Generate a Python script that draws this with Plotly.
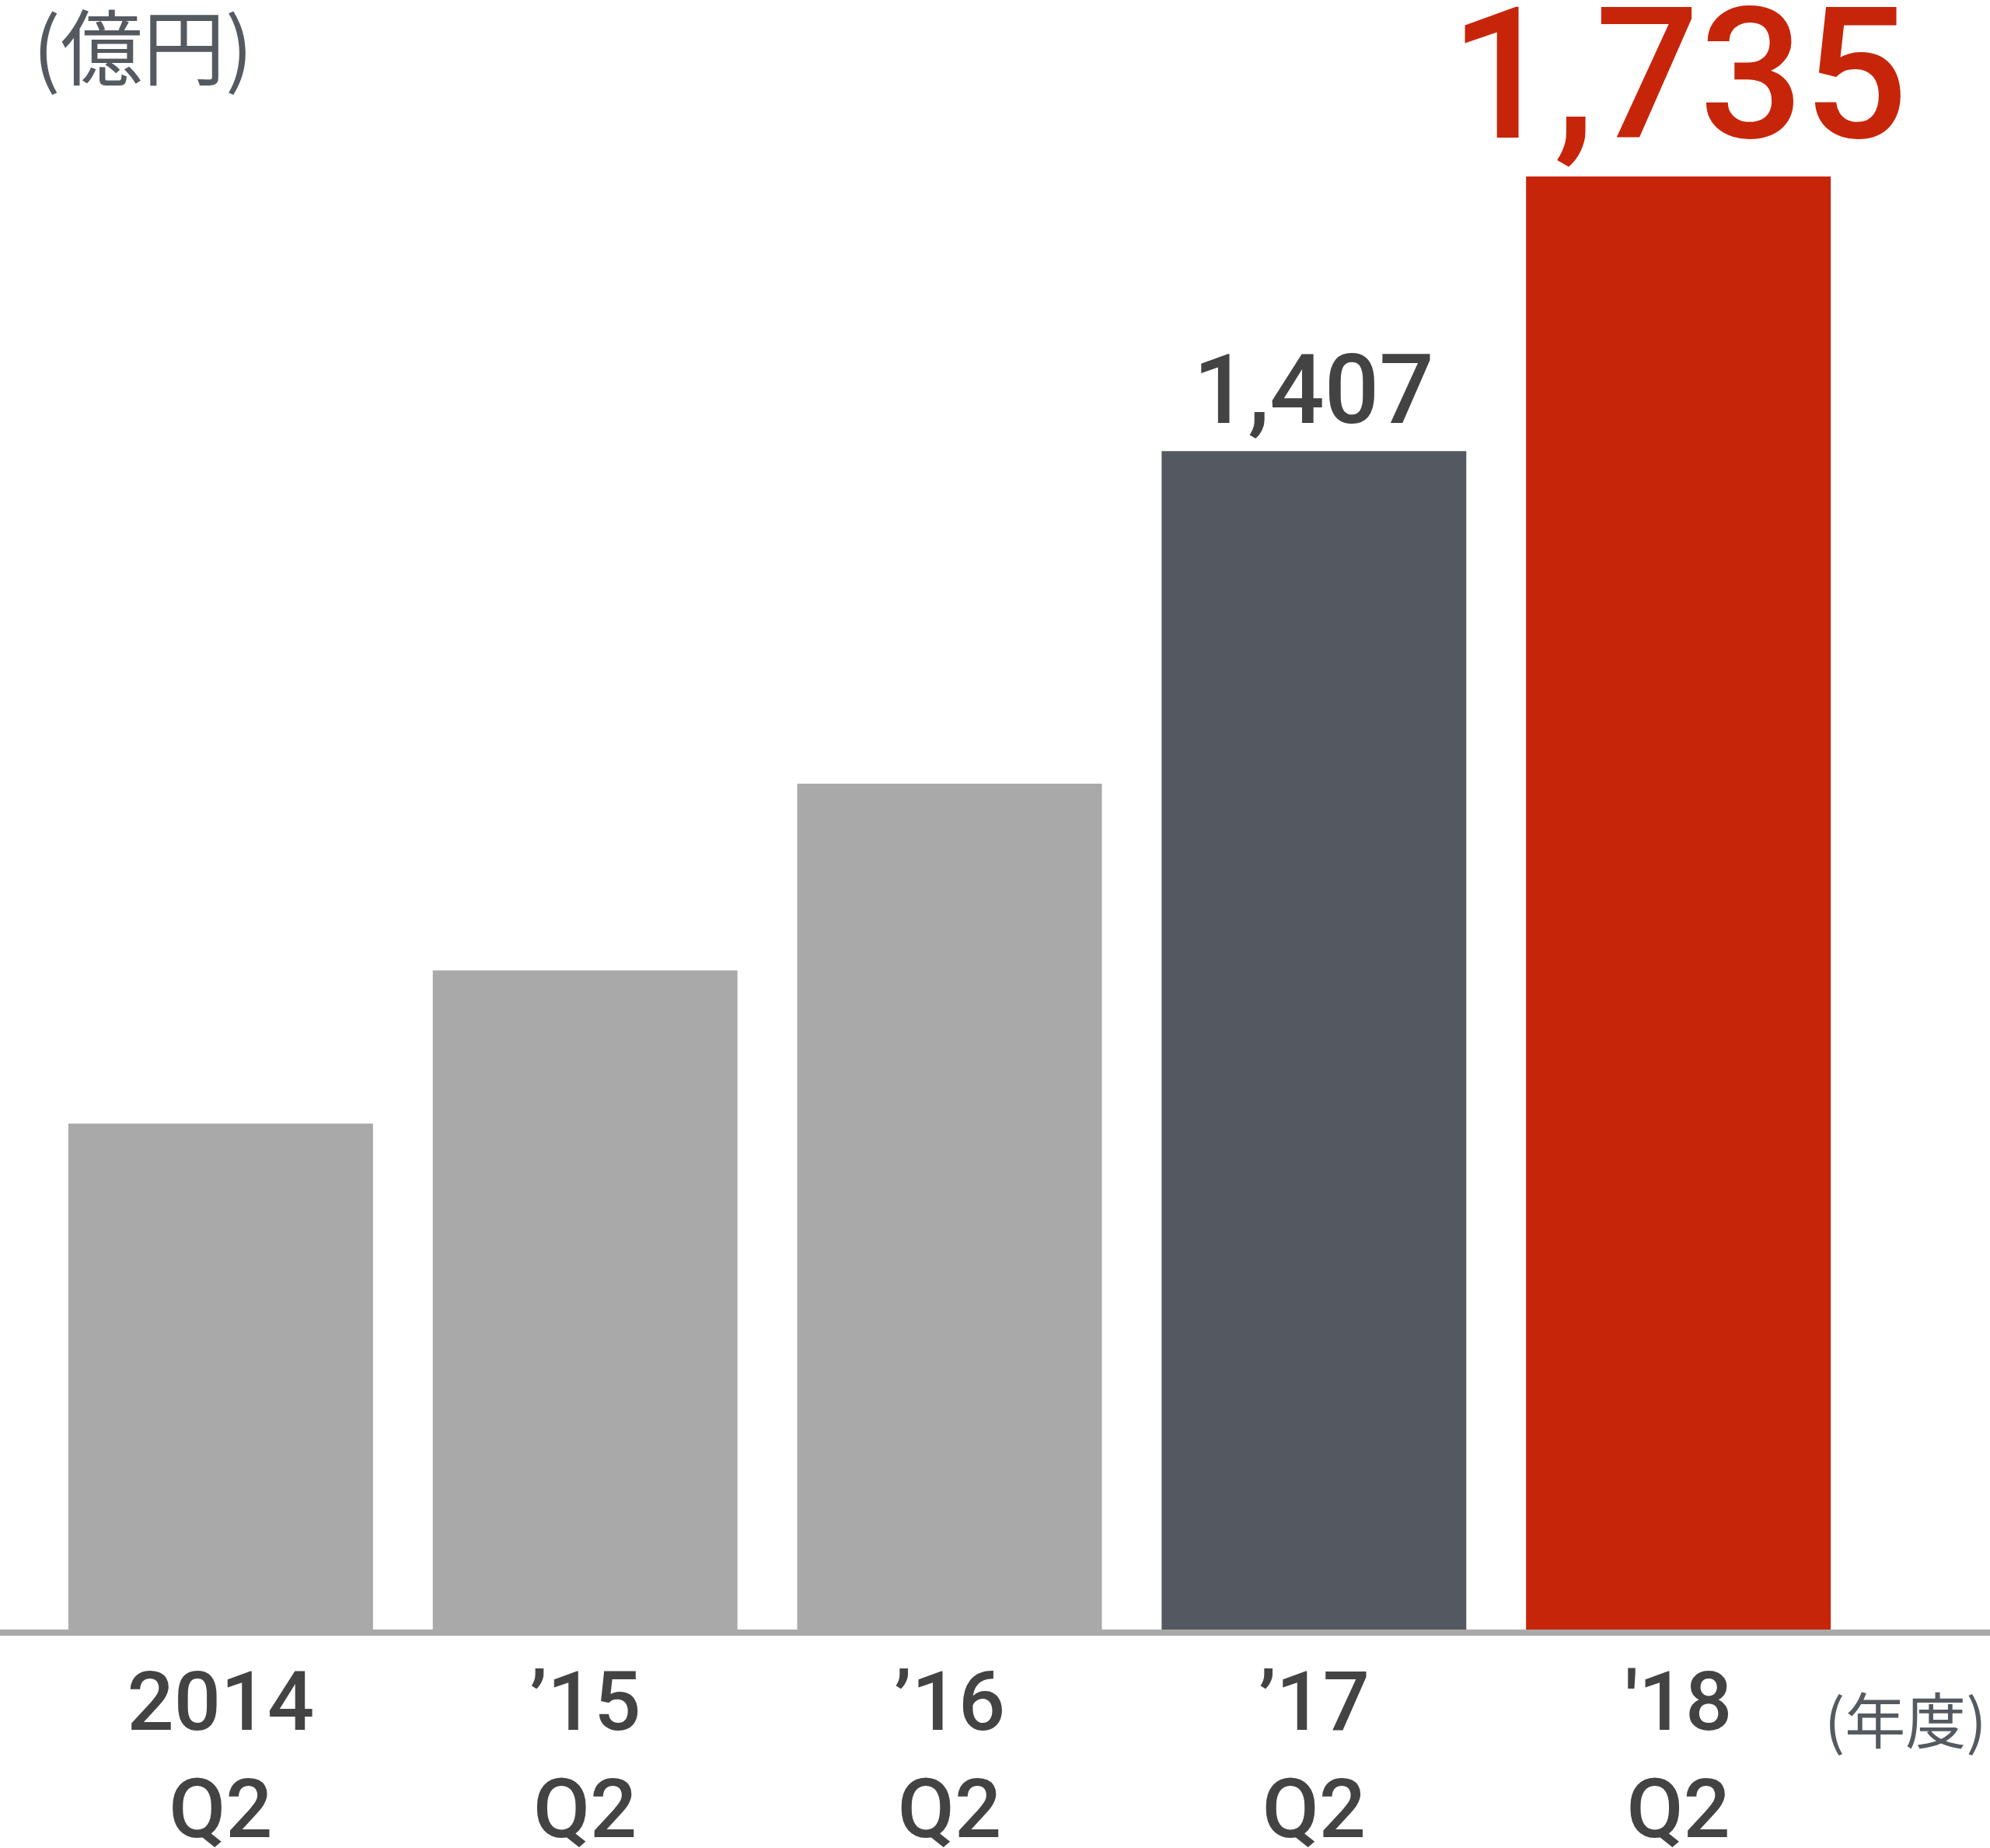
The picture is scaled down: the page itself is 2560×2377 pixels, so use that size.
import plotly.graph_objects as go

# Data (unit: 億円)
fiscal_years = ["2014", "’15", "’16", "’17", "'18"]
quarters = ["Q2", "Q2", "Q2", "Q2", "Q2"]
profit = [604, 787, 1010, 1407, 1735]
labelled = [False, False, False, True, True]

COLORS = {
    "past": "#A8A9A8",
    "prev": "#545860",
    "latest": "#C7250A",
    "axis": "#A8A9A8",
    "label": "#434343",
    "unit": "#555A61",
}

categories = [f"{y}<br>{q}" for y, q in zip(fiscal_years, quarters)]
bar_colors = [COLORS["past"]] * (len(profit) - 2) + [COLORS["prev"], COLORS["latest"]]

fig = go.Figure(
    go.Bar(
        x=categories,
        y=profit,
        marker=dict(color=bar_colors, line=dict(width=0)),
        hoverinfo="skip",
    )
)

# value labels only on the last two bars
label_style = {
    3: dict(size=124, color=COLORS["label"], yshift=4),
    4: dict(size=236, color=COLORS["latest"], yshift=-10),
}
for i, (cat, val, show) in enumerate(zip(categories, profit, labelled)):
    if not show:
        continue
    st = label_style[i]
    fig.add_annotation(
        x=cat,
        y=val,
        text=f"{val:,}",
        showarrow=False,
        yanchor="bottom",
        yshift=st["yshift"],
        font=dict(family="Roboto", size=st["size"], color=st["color"], weight=500),
    )

# unit notes
fig.add_annotation(
    text="(億円)", xref="paper", yref="paper", x=0, y=1,
    xanchor="left", yanchor="middle", xshift=40, yshift=-55, showarrow=False,
    font=dict(family="Noto Sans CJK JP", size=106, color=COLORS["unit"]),
)
fig.add_annotation(
    text="(年度)", xref="paper", yref="paper", x=1, y=0,
    xanchor="right", yanchor="middle", xshift=-2, yshift=-113, showarrow=False,
    font=dict(family="Noto Sans CJK JP", size=78, color=COLORS["unit"]),
)

plot_h = 2096
fig.update_layout(
    width=2560,
    height=2377,
    autosize=False,
    margin=dict(l=0, r=0, t=0, b=2377 - plot_h, pad=0),
    paper_bgcolor="white",
    plot_bgcolor="white",
    bargap=0.164,
    showlegend=False,
    xaxis=dict(
        range=[-0.6055, 4.855],
        automargin=False,
        showline=True,
        linecolor=COLORS["axis"],
        linewidth=8,
        showgrid=False,
        ticks="",
        ticklabelstandoff=-6,
        tickfont=dict(family="Roboto", size=106, color=COLORS["label"], weight=500),
    ),
    yaxis=dict(
        range=[0, 1735 * plot_h / 1869],
        automargin=False,
        visible=False,
        showgrid=False,
        zeroline=False,
    ),
)

fig.write_html(
    "out.html",
    config={"displayModeBar": False},
    post_script="document.body.style.margin='0';document.body.style.overflow='hidden';",
)
